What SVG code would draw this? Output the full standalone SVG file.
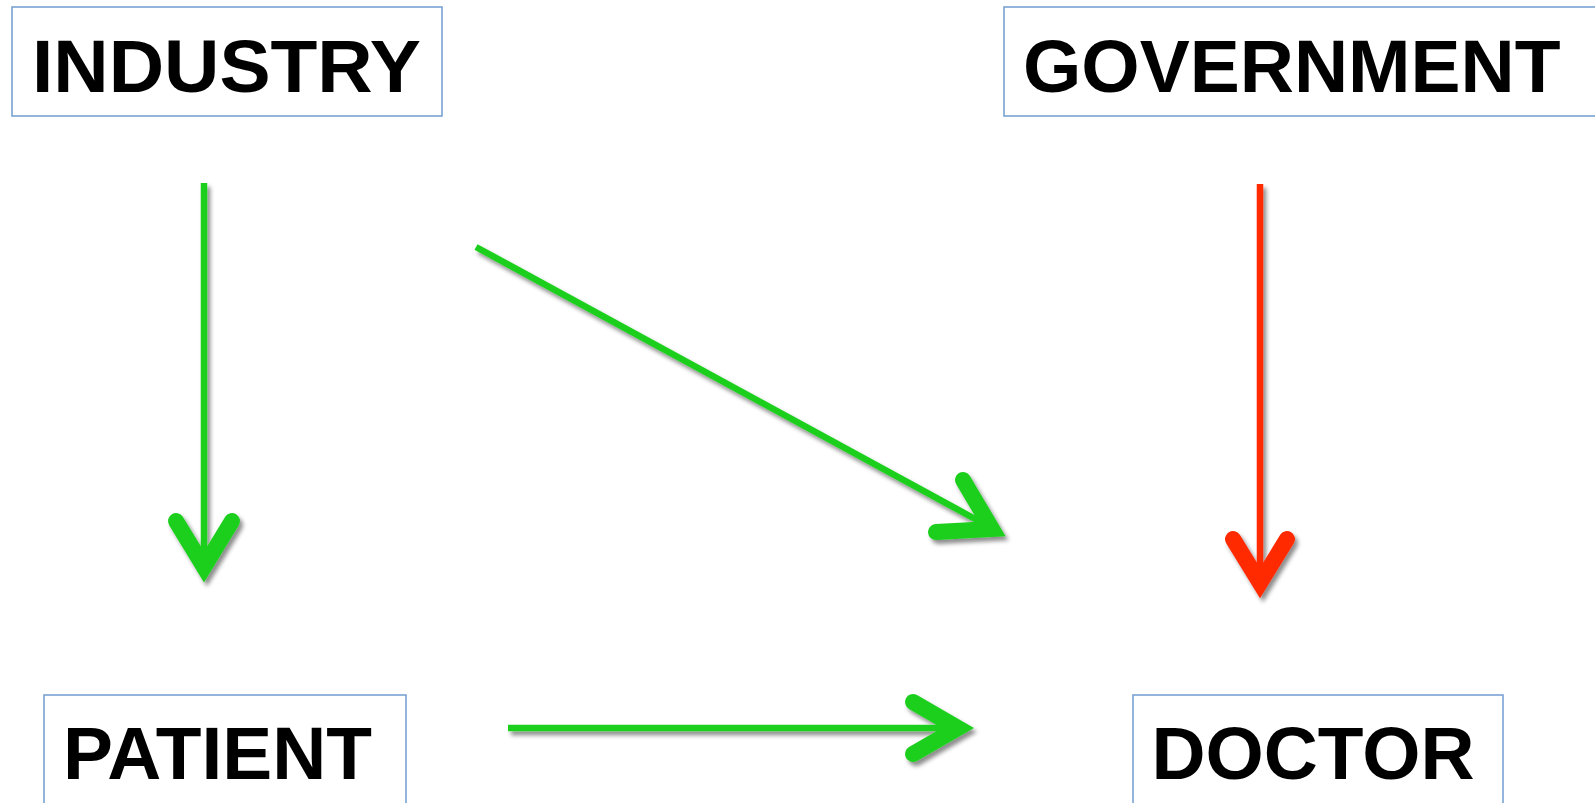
<svg xmlns="http://www.w3.org/2000/svg" width="1595" height="803" viewBox="0 0 1595 803">
<style>
.box{fill:#fff;stroke:#7aa3d3;stroke-width:1.6}
.lbl{font-family:"Liberation Sans",Arial,sans-serif;font-weight:bold;font-size:75px;fill:#000}
.ln{fill:none;stroke-width:6.5;stroke-linecap:butt}
.hd{fill:none;stroke-width:16;stroke-linecap:round;stroke-linejoin:miter;stroke-miterlimit:10}
.g{stroke:#1ecf1e}
.r{stroke:#ff2a00}
</style>
<defs>
<filter id="sh" x="-20%" y="-20%" width="140%" height="140%">
<feDropShadow dx="3" dy="4" stdDeviation="2" flood-color="#000" flood-opacity="0.45"/>
</filter>
</defs>
<rect width="1595" height="803" fill="#fff"/>
<g id="industry">
<rect class="box" x="12" y="7" width="430" height="109"/>
<text class="lbl" x="32" y="92" textLength="389" lengthAdjust="spacingAndGlyphs">INDUSTRY</text>
</g>
<g id="government">
<rect class="box" x="1004" y="7" width="620" height="109"/>
<text class="lbl" x="1023" y="92">GOVERNMENT</text>
</g>
<g id="patient">
<rect class="box" x="44" y="695" width="362" height="130"/>
<text class="lbl" x="63" y="779" textLength="309" lengthAdjust="spacingAndGlyphs">PATIENT</text>
</g>
<g id="doctor">
<rect class="box" x="1133" y="695" width="370" height="130"/>
<text class="lbl" x="1151.5" y="779" textLength="323" lengthAdjust="spacingAndGlyphs">DOCTOR</text>
</g>
<g id="connectors" filter="url(#sh)">
<g id="industry-patient">
<line class="ln g" x1="204" y1="183" x2="204" y2="560"/>
<polyline class="hd g" points="176,521 204,567 232,521"/>
</g>
<g id="industry-doctor">
<line class="ln g" x1="476" y1="247" x2="988" y2="526"/>
<polyline class="hd g" points="963,480 992,529 936,532"/>
</g>
<g id="government-doctor">
<line class="ln r" x1="1260" y1="184" x2="1260" y2="578"/>
<polyline class="hd r" points="1233,539 1260,583 1287,539"/>
</g>
<g id="patient-doctor">
<line class="ln g" x1="508" y1="728" x2="952" y2="728"/>
<polyline class="hd g" points="913,702 958,728 913,754"/>
</g>
</g>
</svg>
